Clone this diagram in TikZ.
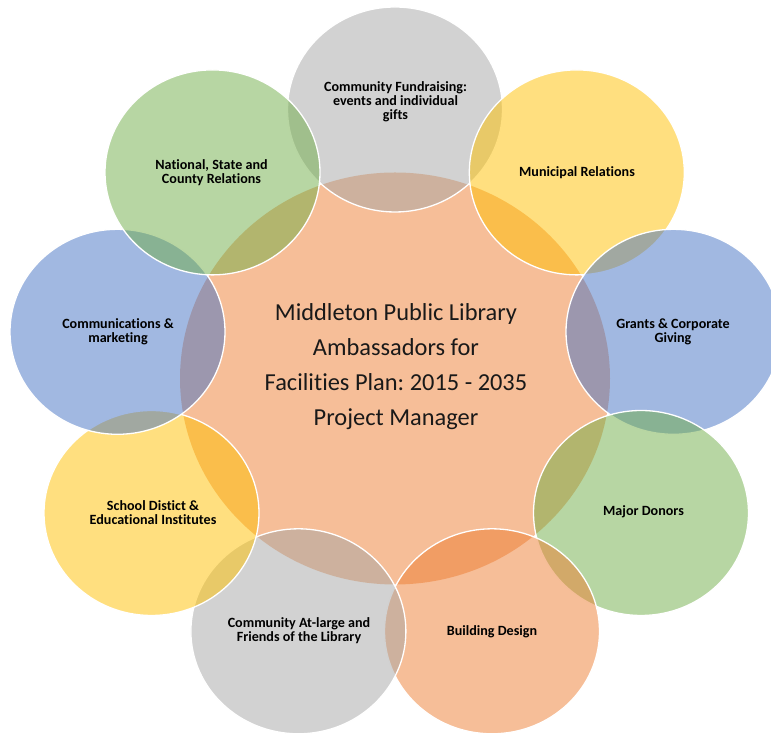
\documentclass[tikz,border=0pt]{standalone}
\usepackage{fontspec}
\setmainfont{Carlito}[Ligatures={NoCommon,NoDiscretionary}]
\frenchspacing
\usetikzlibrary{shapes.geometric}
\definecolor{cblue}{HTML}{4472C4}
\definecolor{corange}{HTML}{ED7D31}
\definecolor{cgray}{HTML}{A5A5A5}
\definecolor{cyellow}{HTML}{FFC000}
\definecolor{cgreen}{HTML}{70AD47}
\begin{document}
\begin{tikzpicture}[x=1pt,y=1pt,
  bubble/.style={ellipse, minimum width=215pt, minimum height=205pt, inner sep=0pt,
    fill opacity=0.5, draw=white, line width=1.3pt},
  hubshape/.style={ellipse, minimum width=430pt, minimum height=412pt, inner sep=0pt,
    fill=corange, fill opacity=0.5},
  lbl/.style={align=center, font=\fontsize{14.1}{14}\selectfont\bfseries\frenchspacing, text=black, inner sep=0pt},
  hublbl/.style={align=center, font=\fontsize{24.4}{35}\selectfont\frenchspacing, text=black!90, inner sep=0pt}]
\useasboundingbox (0,0) rectangle (771,735);
\clip (0,0) rectangle (771,735);
\node[hubshape] (hub) at (395,356.5) {};
\node[bubble, fill=cgray]   (s1) at (395,625.5) {};
\node[bubble, fill=cyellow] (s2) at (576.8,562.6) {};
\node[bubble, fill=cblue]   (s3) at (673.5,403.2) {};
\node[bubble, fill=cgreen]  (s4) at (641.0,222.0) {};
\node[bubble, fill=corange] (s5) at (492.0,103.7) {};
\node[bubble, fill=cgray]   (s6) at (298.4,103.7) {};
\node[bubble, fill=cyellow] (s7) at (151.5,222.0) {};
\node[bubble, fill=cblue]   (s8) at (117.5,403.2) {};
\node[bubble, fill=cgreen]  (s9) at (212.5,562.6) {};
\node[hublbl] (hubtext) at (396,368) {Middleton Public Library\\Ambassadors for\\Facilities Plan: 2015 - 2035\\Project Manager};
\node[lbl] (t1) at (395.5,633.5) {Community Fundraising:\\events and individual\\gifts};
\node[lbl] (t2) at (577,562.5) {Municipal Relations};
\node[lbl] (t3) at (673,403) {Grants \& Corporate\\Giving};
\node[lbl] (t4) at (643.5,223) {Major Donors};
\node[lbl] (t5) at (492,103.5) {Building Design};
\node[lbl] (t6) at (299,104) {Community At-large and\\Friends of the Library};
\node[lbl] (t7) at (153,222.5) {School Distict \&\\Educational Institutes};
\node[lbl] (t8) at (118,403) {Communications \&\\marketing};
\node[lbl] (t9) at (211.5,562.5) {National, State and\\County Relations};
\end{tikzpicture}
\end{document}
